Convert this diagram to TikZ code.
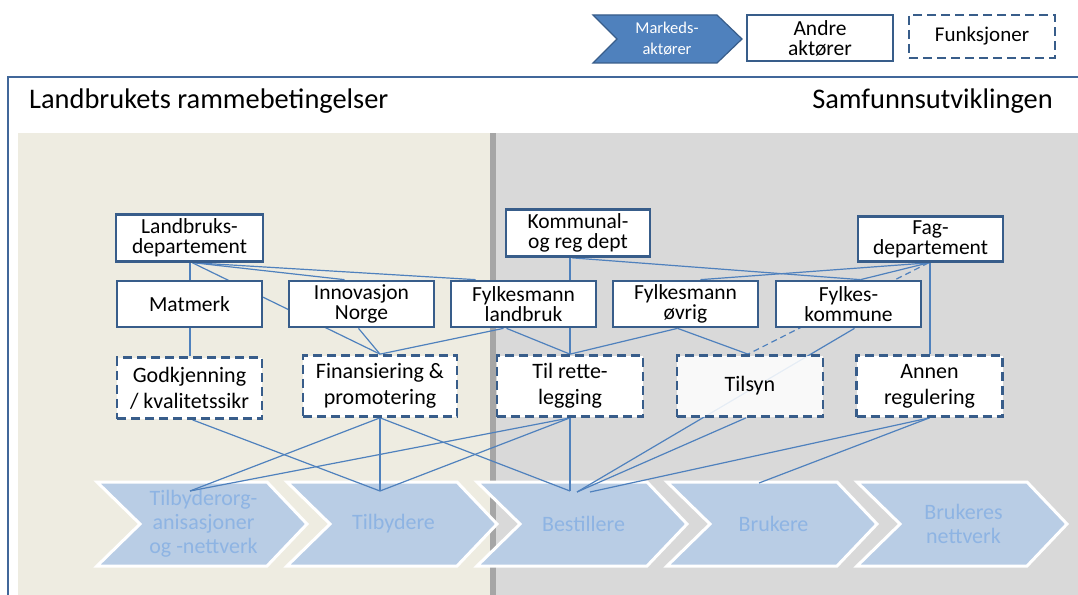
\documentclass[tikz,border=0pt]{standalone}
\usepackage{fontspec}
\setmainfont{Carlito}
\definecolor{boxblue}{HTML}{385D8A}
\definecolor{linkblue}{HTML}{4F81BD}
\definecolor{beige}{HTML}{EEECE1}
\definecolor{panelgray}{HTML}{D9D9D9}
\definecolor{divgray}{HTML}{A6A6A6}
\definecolor{chevfill}{HTML}{B9CDE5}
\definecolor{chevtext}{HTML}{8EB4E3}
\definecolor{framecol}{HTML}{41679A}
\definecolor{legfill}{HTML}{4F81BD}
\pgfdeclarelayer{bg}
\pgfdeclarelayer{links}
\pgfsetlayers{bg,links,main}
\tikzset{
  actor/.style={draw=boxblue, line width=2.7pt, fill=white, minimum width=145pt,
    minimum height=46pt, inner sep=0pt, align=center, font=\fontsize{21.5}{20}\selectfont},
  func/.style={actor, dash pattern=on 9pt off 5pt, minimum height=61pt,
    font=\fontsize{22}{26}\selectfont},
  link/.style={draw=linkblue, line width=1.2pt},
  chevlabel/.style={text=chevtext, align=center, font=\fontsize{22}{24}\selectfont, inner sep=0pt},
  chevshape/.style={fill=chevfill, draw=white, line width=3pt, line join=miter},
}
\begin{document}
\begin{tikzpicture}[x=1pt, y=-1pt]
\useasboundingbox (0,0) rectangle (1078,594);

% ---------- background ----------
\begin{pgfonlayer}{bg}
\fill[white] (0,0) rectangle (1078,594);
\draw[framecol, line width=2pt, fill=white] (8,77) rectangle (1095,620);
\fill[beige] (18,133) rectangle (490,610);
\fill[panelgray] (496,133) rectangle (1090,610);
\fill[divgray] (490,133) rectangle (496,610);

% chevrons
\foreach \i in {0,...,4}{
  \pgfmathsetmacro{\xo}{97+190*\i}
  \path[chevshape] (\xo,482) -- ++(170,0) -- ++(40,42) -- ++(-40,42) -- ++(-170,0) -- ++(43,-42) -- cycle;
}
\node[chevlabel] (c1) at (203.5,524) {Tilbyderorg-\\anisasjoner\\og -nettverk};
\node[chevlabel] (c2) at (393.5,524) {Tilbydere};
\node[chevlabel] (c3) at (583.5,524) {Bestillere};
\node[chevlabel] (c4) at (773.5,524) {Brukere};
\node[chevlabel] (c5) at (963.5,524) {Brukeres\\nettverk};

% legend chevron
\path[fill=legfill, draw=boxblue, line width=1.2pt] (593,15) -- (717,15) -- (742,39) -- (717,63) -- (593,63) -- (617,39) -- cycle;
\end{pgfonlayer}

\coordinate (c1t) at (190,491);
\coordinate (c2t) at (380,491);
\coordinate (c3t) at (570,491);
\coordinate (c3u) at (577,492);
\coordinate (c3v) at (590,492);
\coordinate (c4t) at (759,483);

% ---------- headings & legend ----------
\node[anchor=west, inner sep=0pt, font=\fontsize{28.4}{30}\selectfont] (h1) at (29,101) {Landbrukets rammebetingelser};
\node[anchor=east, inner sep=0pt, font=\fontsize{28.4}{30}\selectfont] (h2) at (1053,101) {Samfunnsutviklingen};

\node[text=white, align=center, inner sep=0pt, font=\fontsize{16.5}{21}\selectfont] (lg1) at (667,39) {Markeds-\\aktører};
\node[actor, minimum width=146pt] (lg2) at (820,38) {Andre\\aktører};
\node[actor, dash pattern=on 9pt off 5pt, minimum width=146pt, minimum height=43pt, font=\fontsize{21}{26}\selectfont] (lg3) at (982,36.5) {Funksjoner};

% ---------- row 1 ----------
\node[actor, minimum width=147pt, minimum height=47pt] (lmd) at (189.5,238) {Landbruks-\\departement};
\node[actor, minimum width=144pt, minimum height=47pt] (krd) at (578,233) {Kommunal-\\og reg dept};
\node[actor, minimum height=45pt] (fag) at (930.5,239) {Fag-\\departement};

% ---------- row 2 ----------
\node[actor] (mat) at (189.5,304) {Matmerk};
\node[actor] (inn) at (361.5,304) {Innovasjon\\Norge};
\node[actor] (fml) at (523.5,304) {Fylkesmann\\landbruk};
\node[actor] (fmo) at (685.5,304) {Fylkesmann\\øvrig};
\node[actor] (fyk) at (848.5,304) {Fylkes-\\kommune};

% ---------- row 3 ----------
\node[func] (god) at (189.5,388) {Godkjenning\\/ kvalitetssikr};
\node[func, minimum width=154pt] (fin) at (380,386) {Finansiering \&\\promotering};
\node[func, minimum width=146pt] (til) at (570,386) {Til rette-\\legging};
\node[func, minimum width=146pt, fill opacity=0.86, text opacity=1, draw opacity=1] (tsy) at (750,386) {Tilsyn};
\node[func, minimum width=146pt] (ann) at (929.5,386) {Annen\\regulering};

% ---------- connectors ----------
\begin{pgfonlayer}{links}
\draw[link] ([xshift=0.5pt]lmd.south) -- ([xshift=0.5pt]mat.north);
\draw[link] ([xshift=3pt]lmd.south) -- (fin.north);
\draw[link] ([xshift=5pt]lmd.south) -- ([xshift=-17pt]inn.north);
\draw[link] ([xshift=6pt]lmd.south) -- ([xshift=-48pt]fml.north);
\draw[link] ([xshift=0.5pt]mat.south) -- ([xshift=0.5pt]god.north);
\draw[link] ([xshift=-3pt]inn.south) -- (fin.north);
\draw[link] ([xshift=-20pt]fml.south) -- (fin.north);
\draw[link] ([xshift=-17pt]fml.south) -- (til.north);
\draw[link] ([xshift=-8pt]krd.south) -- (til.north);
\draw[link] ([xshift=-6pt]krd.south) -- ([xshift=12pt]fyk.north);
\draw[link] ([xshift=-2pt]fag.south) -- ([xshift=15pt]fmo.north);
\draw[link] ([xshift=-2pt]fag.south) -- ([xshift=12pt]fyk.north);
\draw[link, dash pattern=on 6pt off 4pt] ([xshift=-2pt]fag.south) -- ([xshift=-2pt]tsy.north);
\draw[link] ([xshift=-0.5pt]fag.south) -- ([xshift=0.5pt]ann.north);
\draw[link] ([xshift=-8pt]fmo.south) -- (til.north);
\draw[link] ([xshift=-8pt]fmo.south) -- ([xshift=-2pt]tsy.north);
\draw[link] ([xshift=6pt]fyk.south) -- (c3u);
\draw[link] ([xshift=3pt]god.south) -- (c2t);
\draw[link] (fin.south) -- (c1t);
\draw[link] (fin.south) -- (c2t);
\draw[link] (fin.south) -- (c3t);
\draw[link] (til.south) -- (c1t);
\draw[link] (til.south) -- (c2t);
\draw[link] (til.south) -- (c3t);
\draw[link] ([xshift=-4pt]tsy.south) -- (c3u);
\draw[link] (ann.south) -- (c3v);
\draw[link] (ann.south) -- (c4t);
\end{pgfonlayer}
\end{tikzpicture}
\end{document}
